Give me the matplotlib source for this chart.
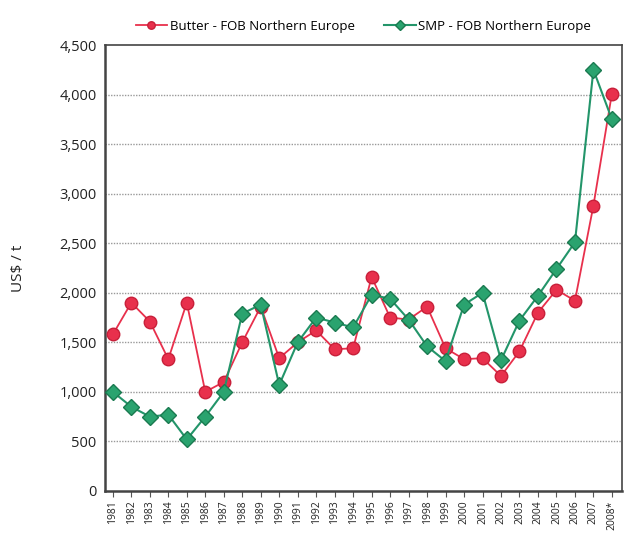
import matplotlib
matplotlib.use('Agg')
import matplotlib.pyplot as plt
import numpy as np

years = list(range(1981, 2009))
year_labels = [str(y) for y in years[:-1]] + ['2008*']

butter = [1580, 1900, 1710, 1330, 1900, 1000, 1100, 1500, 1860, 1340,
          1500, 1620, 1430, 1440, 2160, 1750, 1730, 1860, 1440, 1330,
          1340, 1160, 1410, 1800, 2030, 1920, 2880, 4010]
smp = [1000, 850, 750, 770, 520, 750, 1000, 1790, 1880, 1070,
       1500, 1750, 1700, 1650, 1980, 1940, 1730, 1460, 1310, 1880,
       2000, 1320, 1720, 1970, 2240, 2510, 4250, 3750]

red = '#e8304c'
green = '#23956a'

plt.rcParams['font.family'] = ['Open Sans', 'DejaVu Sans']

fig = plt.figure(figsize=(6.32, 5.36), dpi=100)
ax = fig.add_axes([0.166, 0.084, 0.818, 0.832])

for v in range(500, 4500, 500):
    ax.axhline(v, color='#999999', lw=1.0, ls=(0, (1, 1)), zorder=0)

ax.plot(years, butter, color=red, lw=1.3, marker='o', ms=9,
        mfc=red, mec='#c8203a', mew=1.0, label='Butter - FOB Northern Europe', zorder=3)
ax.plot(years, smp, color=green, lw=1.5, marker='D', ms=8,
        mfc='#2aa36f', mec='#1a7a50', mew=1.0, label='SMP - FOB Northern Europe', zorder=4)

ax.set_xlim(1980.57, 2008.54)
ax.set_ylim(0, 4500)
ax.set_yticks(range(0, 4501, 500))
ax.set_yticklabels([f'{v:,}' for v in range(0, 4501, 500)], fontsize=10.5, color='#222222')
ax.set_xticks(years)
ax.set_xticklabels(year_labels, rotation=90, fontsize=7.5, color='#222222')
ax.tick_params(axis='y', length=0, pad=6)
ax.tick_params(axis='x', length=4, width=0.8, color='#555555', direction='out', pad=3)

for s in ax.spines.values():
    s.set_color('#444444')
    s.set_linewidth(1.2)
ax.spines['left'].set_linewidth(1.8)
ax.spines['bottom'].set_linewidth(1.8)

ax.set_ylabel('US$ / t', fontsize=11, color='#222222', labelpad=24)

ax.legend(loc='lower center', bbox_to_anchor=(0.50, 1.01), ncol=2, frameon=False,
          fontsize=9.5, handlelength=2.4, handletextpad=0.2, columnspacing=2.2,
          borderaxespad=0.2, markerscale=0.6)

fig.savefig('out.png', dpi=100)
